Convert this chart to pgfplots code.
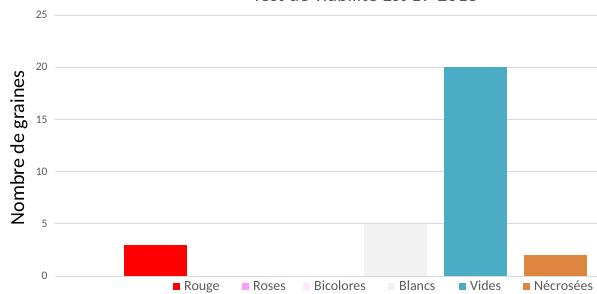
\documentclass[border=0pt]{standalone}
\usepackage{pgfplots}
\pgfplotsset{compat=1.18}
\usepackage{fontspec}
\setmainfont{Carlito}
\definecolor{cRouge}{HTML}{FF0000}
\definecolor{cRoses}{HTML}{FF99FF}
\definecolor{cBicol}{HTML}{FFE5FF}
\definecolor{cBlancs}{HTML}{F2F2F2}
\definecolor{cVides}{HTML}{4BACC6}
\definecolor{cNecro}{HTML}{DD8640}
\definecolor{tickgray}{HTML}{595959}
\definecolor{gridgray}{HTML}{D9D9D9}
\begin{document}
\begin{tikzpicture}[x=1pt,y=1pt]
\clip (0,0) rectangle (597,293);
\useasboundingbox (0,0) rectangle (597,293);
\node[anchor=base, text=tickgray, font=\fontsize{20}{22}\selectfont] at (365,291.5) {Test de viabilité Est 19-2018};
\node[rotate=90, font=\fontsize{20}{22}\selectfont] at (19,145) {Nombre de graines};
\begin{axis}[
  at={(55pt,17pt)}, anchor=south west,
  scale only axis, width=560pt, height=261pt,
  xmin=-1.256, xmax=5.744, ymin=0, ymax=25,
  ytick={0,5,...,25},
  xtick=\empty,
  axis line style={draw=none},
  major tick length=0pt,
  ymajorgrids, grid style={gridgray, line width=0.8pt},
  yticklabel style={text=tickgray, font=\fontsize{11.5}{12}\selectfont},
  /pgf/number format/assume math mode=true,
  yticklabel style={xshift=-4pt},
  ybar, bar shift=0pt, bar width=0.79,
  legend columns=6,
  legend style={at={(0.2107,-0.04)}, anchor=west, draw=none, fill=none,
    font=\fontsize{14}{15}\selectfont, text=tickgray,
    nodes={inner sep=0pt},
    /tikz/every odd column/.append style={column sep=4pt},
    /tikz/every even column/.append style={column sep=0pt},
    inner sep=0pt},
  legend image code/.code={\fill[#1] (0pt,-3.5pt) rectangle (7pt,3.5pt);},
]
\addplot[fill=cRouge, draw=none] coordinates {(0,3)};
\addplot[fill=cRoses, draw=none] coordinates {(1,0)};
\addplot[fill=cBicol, draw=none] coordinates {(2,0)};
\addplot[fill=cBlancs, draw=none] coordinates {(3,5)};
\addplot[fill=cVides, draw=none] coordinates {(4,20)};
\addplot[fill=cNecro, draw=none] coordinates {(5,2)};
\legend{\makebox[58pt][l]{Rouge},\makebox[50pt][l]{Roses},\makebox[74pt][l]{Bicolores},\makebox[60pt][l]{Blancs},\makebox[53pt][l]{Vides},Nécrosées}
\end{axis}
\end{tikzpicture}
\end{document}
